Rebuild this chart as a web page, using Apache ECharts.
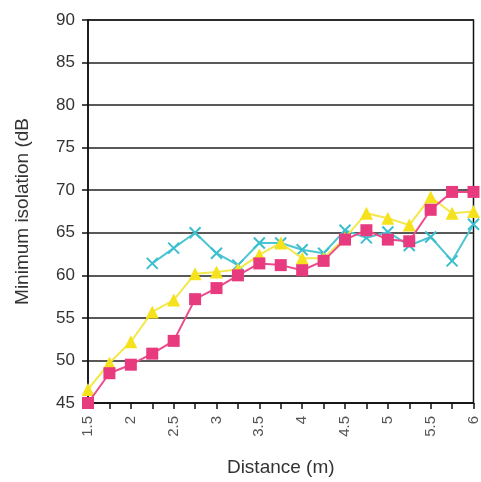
<!DOCTYPE html>
<html>
<head>
<meta charset="utf-8">
<script src="https://cdn.jsdelivr.net/npm/echarts@6/dist/echarts.min.js"></script>
<style>
  html, body { margin: 0; padding: 0; background: #fff; }
  #main { width: 481px; height: 482px; }
</style>
</head>
<body>
<div id="main"></div>
<script>
// distance (m)
var distance = [1.5, 1.75, 2, 2.25, 2.5, 2.75, 3, 3.25, 3.5, 3.75, 4, 4.25, 4.5, 4.75, 5, 5.25, 5.5, 5.75, 6];
// minimum isolation (dB)
var pinkVals   = [45, 48.5, 49.5, 50.8, 52.3, 57.2, 58.5, 60.0, 61.4, 61.2, 60.6, 61.7, 64.2, 65.3, 64.2, 64.0, 67.7, 69.8, 69.8];
var yellowVals = [46.6, 49.7, 52.2, 55.7, 57.1, 60.2, 60.4, 60.7, 62.4, 63.8, 62.0, 62.0, 64.4, 67.3, 66.7, 65.9, 69.2, 67.3, 67.5];
var cyanVals   = [null, null, null, 61.4, 63.2, 65.0, 62.6, 61.2, 63.8, 63.8, 63.0, 62.6, 65.3, 64.4, 65.1, 63.5, 64.5, 61.7, 66.0];
var yTicks = [45, 90, 5];

function pairs(vals) {
    var out = [];
    for (var i = 0; i < distance.length; i++) {
        if (vals[i] != null) out.push([distance[i], vals[i]]);
    }
    return out;
}

var font = 'Liberation Sans, Arial, sans-serif';
var myChart = echarts.init(document.getElementById('main'));
myChart.setOption({
    animation: false,
    grid: {
        left: 88, right: 3, top: 20, bottom: 79,
        show: true, borderColor: '#111', borderWidth: 1.5
    },
    xAxis: {
        type: 'value',
        min: 1.5, max: 6, interval: 0.25,
        name: 'Distance (m)',
        nameLocation: 'middle',
        nameGap: 55,
        nameTextStyle: { fontFamily: font, fontSize: 19, color: '#333' },
        axisLine: { lineStyle: { color: '#111', width: 1.5 } },
        axisTick: { show: true, length: 6, inside: false, lineStyle: { color: '#111', width: 1.5 } },
        axisLabel: {
            rotate: 90,
            margin: 13,
            fontFamily: font, fontSize: 15, color: '#555',
            formatter: function (v) {
                return Math.abs(v * 2 - Math.round(v * 2)) < 1e-6 ? String(v) : '';
            }
        },
        splitLine: { show: false }
    },
    yAxis: {
        type: 'value',
        min: yTicks[0], max: yTicks[1], interval: yTicks[2],
        name: 'Minimum isolation (dB',
        nameLocation: 'middle',
        nameGap: 56,
        nameTextStyle: { fontFamily: font, fontSize: 19, color: '#333' },
        axisLine: { show: true, lineStyle: { color: '#111', width: 1.5 } },
        axisTick: { show: true, length: 6, lineStyle: { color: '#111', width: 1.5 } },
        axisLabel: { margin: 13, fontFamily: font, fontSize: 17, color: '#333' },
        splitLine: { show: true, lineStyle: { color: '#222', width: 1.5 } }
    },
    series: [
        {
            name: 'cyan',
            type: 'line',
            data: pairs(cyanVals),
            symbol: 'path://M0,0L10,10M10,0L0,10',
            symbolSize: 11,
            lineStyle: { color: '#4cc6d2', width: 2 },
            itemStyle: { color: 'rgba(0,0,0,0)', borderColor: '#3bbfcf', borderWidth: 2 },
            z: 3
        },
        {
            name: 'yellow',
            type: 'line',
            data: pairs(yellowVals),
            symbol: 'triangle',
            symbolSize: 13,
            lineStyle: { color: '#f3e84a', width: 2 },
            itemStyle: { color: '#f5e21c' },
            z: 4
        },
        {
            name: 'pink',
            type: 'line',
            data: pairs(pinkVals),
            symbol: 'rect',
            symbolSize: 12,
            lineStyle: { color: '#ec4a8a', width: 2 },
            itemStyle: { color: '#e83a7e' },
            z: 5
        }
    ]
});
</script>
</body>
</html>
